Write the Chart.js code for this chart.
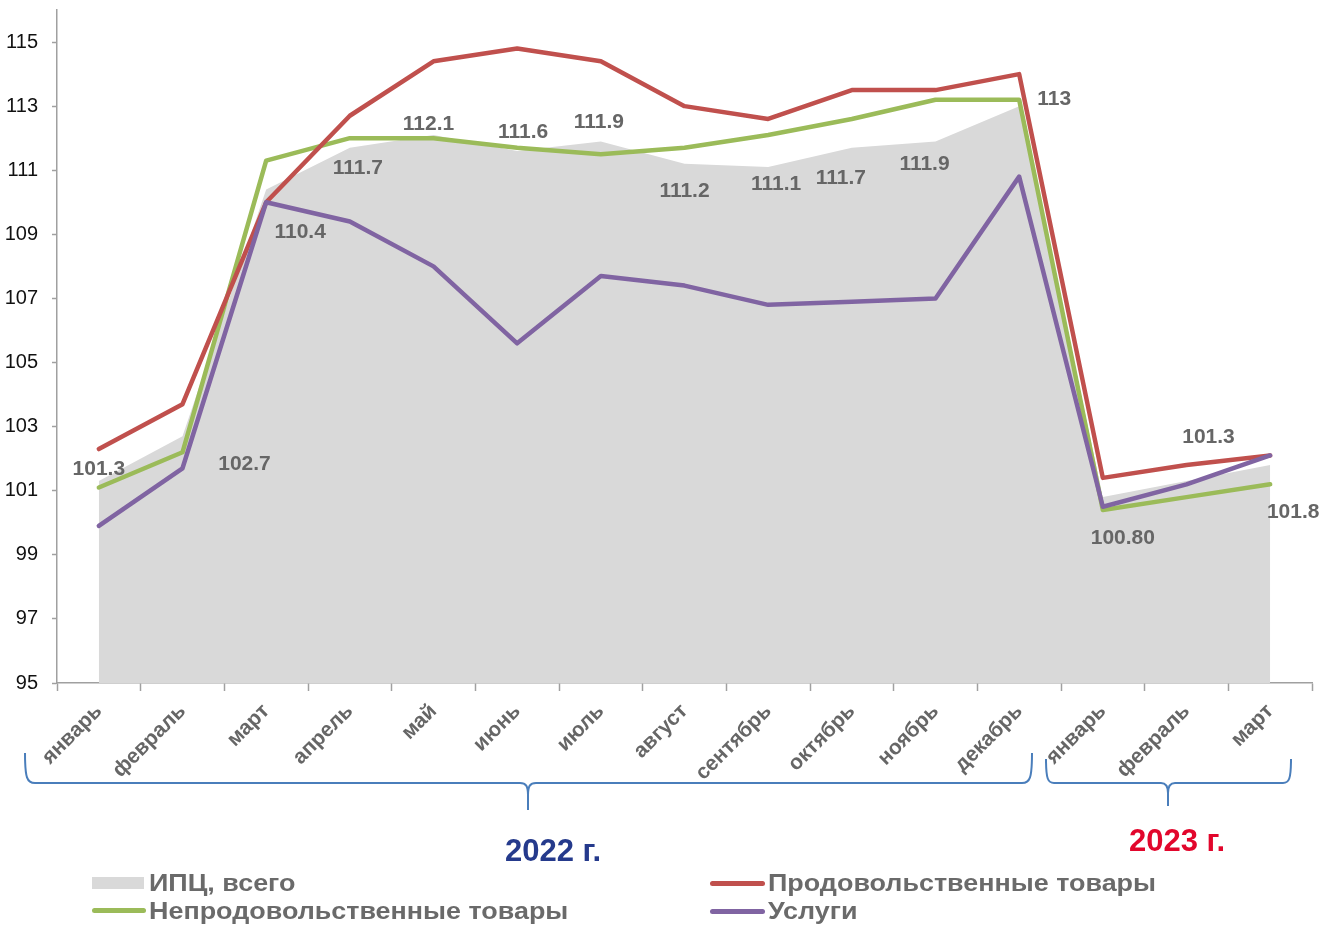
<!DOCTYPE html>
<html><head><meta charset="utf-8">
<script src="https://cdn.jsdelivr.net/npm/chart.js@4"></script>
<style>
html,body{margin:0;padding:0;background:#fff;}
#wrap{position:relative;width:1322px;height:925px;overflow:hidden;font-family:"Liberation Sans",Arial,sans-serif;}
#c{position:absolute;left:0;top:0;}
svg{position:absolute;left:0;top:0;}
.t{position:absolute;white-space:nowrap;font-weight:bold;line-height:1;}
.lg{position:absolute;white-space:nowrap;font-weight:bold;font-size:23px;line-height:1;color:#6a6a6a;transform:scaleX(1.17);transform-origin:left center;}
.sw{position:absolute;}
</style></head><body>
<div id="wrap">
<canvas id="c" width="1322" height="925"></canvas>
<svg width="1322" height="925">
<path d="M25,753 C25,778 27,783 35,783 L520,783 C526,783 528,786 528,795 L528,810 M528,795 C528,786 530,783 536,783 L1022,783 C1030,783 1032,778 1032,753" fill="none" stroke="#4a7ebb" stroke-width="2"/>
<path d="M1046,759 C1046,779 1048,783 1054,783 L1161,783 C1166,783 1168,786 1168,793 L1168,806 M1168,793 C1168,786 1170,783 1175,783 L1283,783 C1289,783 1291,779 1291,759" fill="none" stroke="#4a7ebb" stroke-width="2"/>
</svg>
<div class="t" style="left:505px;top:835px;font-size:31px;color:#253a8c">2022 г.</div>
<div class="t" style="left:1129px;top:825px;font-size:31px;color:#e2062c">2023 г.</div>
<div class="sw" style="left:92px;top:877px;width:52px;height:12px;background:#d9d9d9"></div>
<div class="lg" style="left:149px;top:872px">ИПЦ, всего</div>
<div class="sw" style="left:92px;top:908px;width:54px;height:5px;border-radius:3px;background:#9bbb59"></div>
<div class="lg" style="left:149px;top:900px">Непродовольственные товары</div>
<div class="sw" style="left:710px;top:881px;width:55px;height:5px;border-radius:3px;background:#c0504d"></div>
<div class="lg" style="left:768px;top:872px">Продовольственные товары</div>
<div class="sw" style="left:710px;top:909px;width:55px;height:5px;border-radius:3px;background:#8064a2"></div>
<div class="lg" style="left:768px;top:900px">Услуги</div>
</div>
<script>
const categories = ['январь','февраль','март','апрель','май','июнь','июль','август','сентябрь','октябрь','ноябрь','декабрь','январь','февраль','март'];
const cpi      = [101.3,102.7,110.4,111.7,112.1,111.6,111.9,111.2,111.1,111.7,111.9,113.0,100.8,101.3,101.8];
const cpiLabels = ['101.3','102.7','110.4','111.7','112.1','111.6','111.9','111.2','111.1','111.7','111.9','113','100.80','101.3','101.8'];
const food     = [102.3,103.7,110.0,112.7,114.4,114.8,114.4,113.0,112.6,113.5,113.5,114.0,101.4,101.8,102.1];
const nonFood  = [101.1,102.2,111.3,112.0,112.0,111.7,111.5,111.7,112.1,112.6,113.2,113.2,100.4,100.8,101.2];
const services = [99.9,101.7,110.0,109.4,108.0,105.6,107.7,107.4,106.8,106.9,107.0,110.8,100.5,101.2,102.1];
const yTicks   = [95,97,99,101,103,105,107,109,111,113,115];
const labelDx  = [0,62,34,8,-5,6,-2,0,8,-11,-11,35,20,22,23];
const labelDy  = [-12,28,43,20,-11,-19,-19,27,17,30,23,-7,41,-44,47];

const FONT = '"Liberation Sans", Arial, sans-serif';
const cpiLabelPlugin = {
  id: 'cpiLabels',
  afterDatasetsDraw(chart) {
    const ctx = chart.ctx;
    const meta = chart.getDatasetMeta(0);
    ctx.save();
    ctx.font = 'bold 21px ' + FONT;
    ctx.fillStyle = '#666666';
    ctx.textAlign = 'center';
    ctx.textBaseline = 'middle';
    meta.data.forEach((pt, i) => {
      ctx.fillText(cpiLabels[i], pt.x + labelDx[i], pt.y + labelDy[i]);
    });
    ctx.restore();
  }
};

const lineDs = (label, data, color, order) => ({
  label, data, borderColor: color, backgroundColor: color, borderWidth: 4.5,
  pointRadius: 0, tension: 0, fill: false, order,
  borderCapStyle: 'round', borderJoinStyle: 'round'
});

new Chart(document.getElementById('c'), {
  type: 'line',
  data: {
    labels: categories,
    datasets: [
      { label: 'ИПЦ, всего', data: cpi, backgroundColor: '#d9d9d9', borderWidth: 0, borderColor: 'rgba(0,0,0,0)',
        pointRadius: 0, fill: 'start', tension: 0, order: 10 },
      lineDs('Продовольственные товары', food, '#c0504d', 2),
      lineDs('Непродовольственные товары', nonFood, '#9bbb59', 3),
      lineDs('Услуги', services, '#8064a2', 1)
    ]
  },
  options: {
    responsive: false,
    animation: false,
    devicePixelRatio: 1,
    layout: { autoPadding: false, padding: { top: 10, right: 10, left: 0, bottom: 0 } },
    plugins: { legend: { display: false }, tooltip: { enabled: false } },
    scales: {
      x: {
        type: 'category',
        offset: true,
        grid: { offset: true, drawOnChartArea: false, drawTicks: true, tickLength: 8, color: '#a0a0a0', tickColor: '#a0a0a0', tickWidth: 1.5 },
        border: { color: '#a0a0a0', width: 1.5 },
        ticks: { autoSkip: false, minRotation: 45, maxRotation: 45, color: '#666666', padding: 8,
                 font: { family: FONT, size: 21, weight: 'bold' } },
        afterFit(s) { s.height = 242; s.paddingLeft = 0; s.paddingRight = 0; }
      },
      y: {
        min: 95, max: 116,
        afterBuildTicks(s) { s.ticks = yTicks.map(v => ({ value: v })); },
        grid: { drawOnChartArea: false, drawTicks: true, tickLength: 5, color: '#a0a0a0', tickColor: '#a0a0a0', tickWidth: 1.5 },
        border: { color: '#a0a0a0', width: 1.5 },
        ticks: { color: '#111111', padding: 14, font: { family: FONT, size: 20 } },
        afterFit(s) { s.width = 57; s.paddingTop = 0; s.paddingBottom = 0; }
      }
    }
  },
  plugins: [cpiLabelPlugin]
});
</script>
</body></html>
